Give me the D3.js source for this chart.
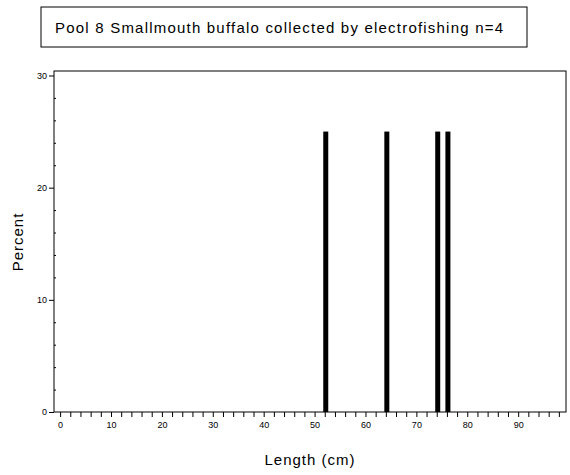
<!DOCTYPE html>
<html><head><meta charset="utf-8">
<script src="https://cdn.jsdelivr.net/npm/d3@7"></script>
<style>body{margin:0;background:#fff}text{font-family:"Liberation Sans",Arial,sans-serif}</style>
</head><body><svg id="c" width="570" height="475"></svg>
<script>
const lengths = [52, 64, 74, 76];
const percents = [25, 25, 25, 25];
const xMajor = [0,10,20,30,40,50,60,70,80,90];
const yMajor = [0,10,20,30];
const title = "Pool 8 Smallmouth buffalo collected by electrofishing n=4";

const svg = d3.select("#c");
const L=54,R=566,T=71,B=412;
const x = d3.scaleLinear().domain([-1.2,99.4]).range([L,R]);
const y = d3.scaleLinear().domain([0,30.4]).range([B,T]);

svg.append("rect").attr("x",41).attr("y",7).attr("width",486).attr("height",40).attr("fill","none").attr("stroke","#000");
svg.append("text").attr("x",55).attr("y",33).attr("font-size",15).attr("textLength",448).attr("lengthAdjust","spacing").text(title);

svg.append("rect").attr("x",L).attr("y",T).attr("width",R-L).attr("height",B-T).attr("fill","none").attr("stroke","#000");

const xt = d3.range(0,99,2);
svg.append("g").attr("transform",`translate(0,${B})`)
  .call(d3.axisBottom(x).tickValues(xt).tickSize(5).tickFormat(d=>xMajor.includes(d)?d:""))
  .call(g=>{g.select(".domain").remove();g.selectAll("text").attr("font-size",9).attr("dy","0.9em");});
const yt = d3.range(0,31,2);
svg.append("g").attr("transform",`translate(${L},0)`)
  .call(d3.axisLeft(y).tickValues(yt).tickSize(0).tickFormat(d=>yMajor.includes(d)?d:""))
  .call(g=>{g.select(".domain").remove();g.selectAll("text").attr("font-size",9).attr("x",-7);
    g.selectAll(".tick line").attr("x2",d=>yMajor.includes(d)?-5:0).attr("x1",d=>yMajor.includes(d)?0:2);});

svg.selectAll(".bar").data(lengths).enter().append("rect")
  .attr("x",d=>x(d)-1.5).attr("width",5)
  .attr("y",(d,i)=>y(percents[i])).attr("height",(d,i)=>B-y(percents[i])).attr("fill","#000");

svg.append("text").attr("x",310).attr("y",465).attr("text-anchor","middle").attr("font-size",15).attr("letter-spacing",1).text("Length (cm)");
svg.append("text").attr("transform","translate(23,242) rotate(-90)").attr("text-anchor","middle").attr("font-size",15).attr("letter-spacing",1).text("Percent");
</script></body></html>
